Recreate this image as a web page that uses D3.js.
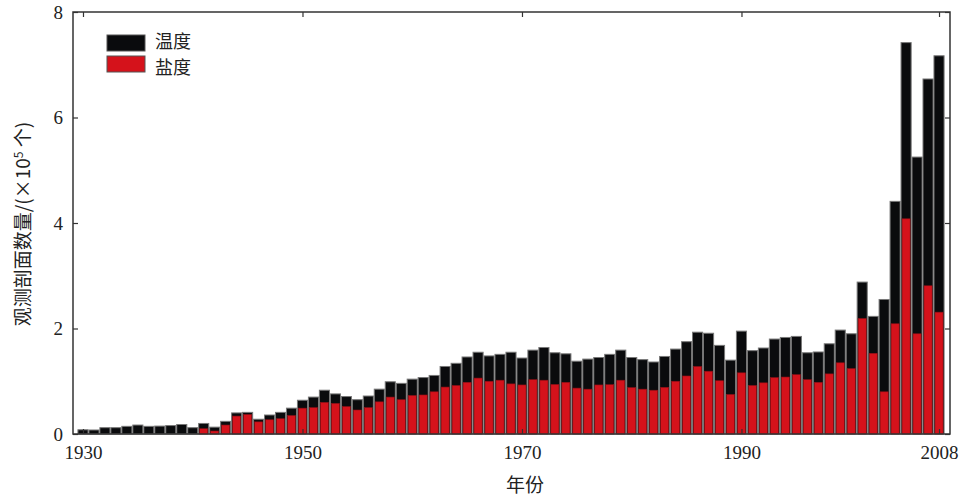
<!DOCTYPE html>
<html><head><meta charset="utf-8">
<script src="https://cdn.jsdelivr.net/npm/d3@7"></script>
<style>body{margin:0;background:#fff}svg{display:block}</style>
</head><body>
<script>
const years = d3.range(1930, 2009);
const temperature = [
0.08,0.076,0.12,0.12,0.145,0.17,0.145,0.15,0.16,0.18,
0.12,0.20,0.13,0.24,0.40,0.41,0.28,0.36,0.41,0.49,
0.64,0.70,0.83,0.76,0.71,0.65,0.72,0.85,0.99,0.96,
1.04,1.07,1.11,1.28,1.34,1.46,1.55,1.48,1.51,1.55,
1.44,1.59,1.64,1.54,1.52,1.38,1.42,1.45,1.51,1.59,
1.45,1.41,1.365,1.47,1.61,1.75,1.93,1.91,1.68,1.40,
1.95,1.58,1.63,1.80,1.83,1.85,1.54,1.555,1.71,1.97,
1.90,2.88,2.23,2.55,4.41,7.42,5.25,6.73,7.17];
const salinity = [
0,0,0,0,0,0,0,0,0,0,
0,0.10,0.057,0.17,0.34,0.37,0.23,0.27,0.29,0.35,
0.49,0.50,0.60,0.58,0.52,0.455,0.50,0.61,0.70,0.65,
0.73,0.74,0.80,0.89,0.92,0.98,1.06,1.00,1.02,0.95,
0.93,1.03,1.02,0.94,0.98,0.87,0.85,0.93,0.935,1.02,
0.88,0.85,0.83,0.885,1.00,1.10,1.28,1.19,1.01,0.75,
1.16,0.92,0.97,1.07,1.08,1.125,1.03,0.98,1.14,1.35,
1.24,2.19,1.53,0.80,2.09,4.08,1.90,2.81,2.31];
const xTicks = [1930, 1950, 1970, 1990, 2008];
const yTicks = [0, 2, 4, 6, 8];
const seriesNames = ["温度", "盐度"];
const colors = ["#0a0b0d", "#d5121b"];

(function(){
const W = 964, H = 501;
const svg = d3.select("body").append("svg").attr("width", W).attr("height", H);
const L = 73, R = 950, T = 12, B = 434;
const x = d3.scaleLinear().domain([1929.09, 2009.0]).range([L, R]);
const y = d3.scaleLinear().domain([0, 8]).range([B, T]);
const step = x(1931) - x(1930);
const bw = step * 0.92;

const serif = "'Liberation Serif','Times New Roman',serif";
const cjk = "'Noto Sans CJK SC','Noto Sans CJK JP',sans-serif";

// bars
const g = svg.append("g");
g.selectAll("rect.t").data(years).join("rect")
  .attr("x", (d) => x(d) - bw/2).attr("width", bw)
  .attr("y", (d, i) => y(temperature[i])).attr("height", (d, i) => B - y(temperature[i]))
  .attr("fill", colors[0]).attr("stroke", "#777").attr("stroke-width", 1);
g.selectAll("rect.s").data(years.filter((d, i) => salinity[i] > 0)).join("rect")
  .attr("x", (d) => x(d) - bw/2 + 1).attr("width", bw - 2)
  .attr("y", (d) => y(salinity[d - 1930])).attr("height", (d) => B - y(salinity[d - 1930]))
  .attr("fill", colors[1]).attr("stroke", "#8c1016").attr("stroke-width", 0.6);

// axes with inward ticks
const axCol = "#333";
const axB = d3.axisBottom(x).tickValues(xTicks).tickFormat(d3.format("d")).tickSizeInner(-5).tickSizeOuter(0).tickPadding(12);
const axT = d3.axisTop(x).tickValues(xTicks).tickFormat("").tickSizeInner(-5).tickSizeOuter(0);
const axL = d3.axisLeft(y).tickValues(yTicks).tickSizeInner(-5).tickSizeOuter(0).tickPadding(10);
const axR = d3.axisRight(y).tickValues(yTicks).tickFormat("").tickSizeInner(-5).tickSizeOuter(0);
function style(sel){
  sel.select(".domain").remove();
  sel.selectAll("line").attr("stroke", axCol).attr("stroke-width", 1.2);
  sel.selectAll("text").attr("font-family", serif).attr("font-size", 19).attr("fill", "#222");
}
svg.append("g").attr("transform", `translate(0,${B})`).call(axB).call(style);
svg.append("g").attr("transform", `translate(0,${T})`).call(axT).call(style);
svg.append("g").attr("transform", `translate(${L},0)`).call(axL).call(style);
svg.append("g").attr("transform", `translate(${R},0)`).call(axR).call(style);
svg.append("rect").attr("x", L).attr("y", T).attr("width", R - L).attr("height", B - T)
  .attr("fill", "none").attr("stroke", axCol).attr("stroke-width", 1.5);

// axis labels
svg.append("text").attr("x", 525).attr("y", 492).attr("text-anchor", "middle")
  .attr("font-family", cjk).attr("font-size", 19).attr("fill", "#222").text("年份");
const yl = svg.append("text").attr("transform", "translate(30,224) rotate(-90)")
  .attr("text-anchor", "middle").attr("font-family", cjk).attr("font-size", 19).attr("fill", "#222");
yl.append("tspan").text("观测剖面数量/(×10");
yl.append("tspan").attr("dy", -7).attr("font-size", 12).text("5");
yl.append("tspan").attr("dy", 7).text(" 个)");

// legend
const lg = svg.append("g");
seriesNames.forEach((n, i) => {
  lg.append("rect").attr("x", 107).attr("y", 35 + i * 21).attr("width", 38).attr("height", 16)
    .attr("fill", colors[i]).attr("stroke", "#555").attr("stroke-width", 1);
  lg.append("text").attr("x", 155).attr("y", 48 + i * 26).attr("font-family", cjk)
    .attr("font-size", 18).attr("fill", "#222").text(n);
});
})();
</script>
</body></html>
